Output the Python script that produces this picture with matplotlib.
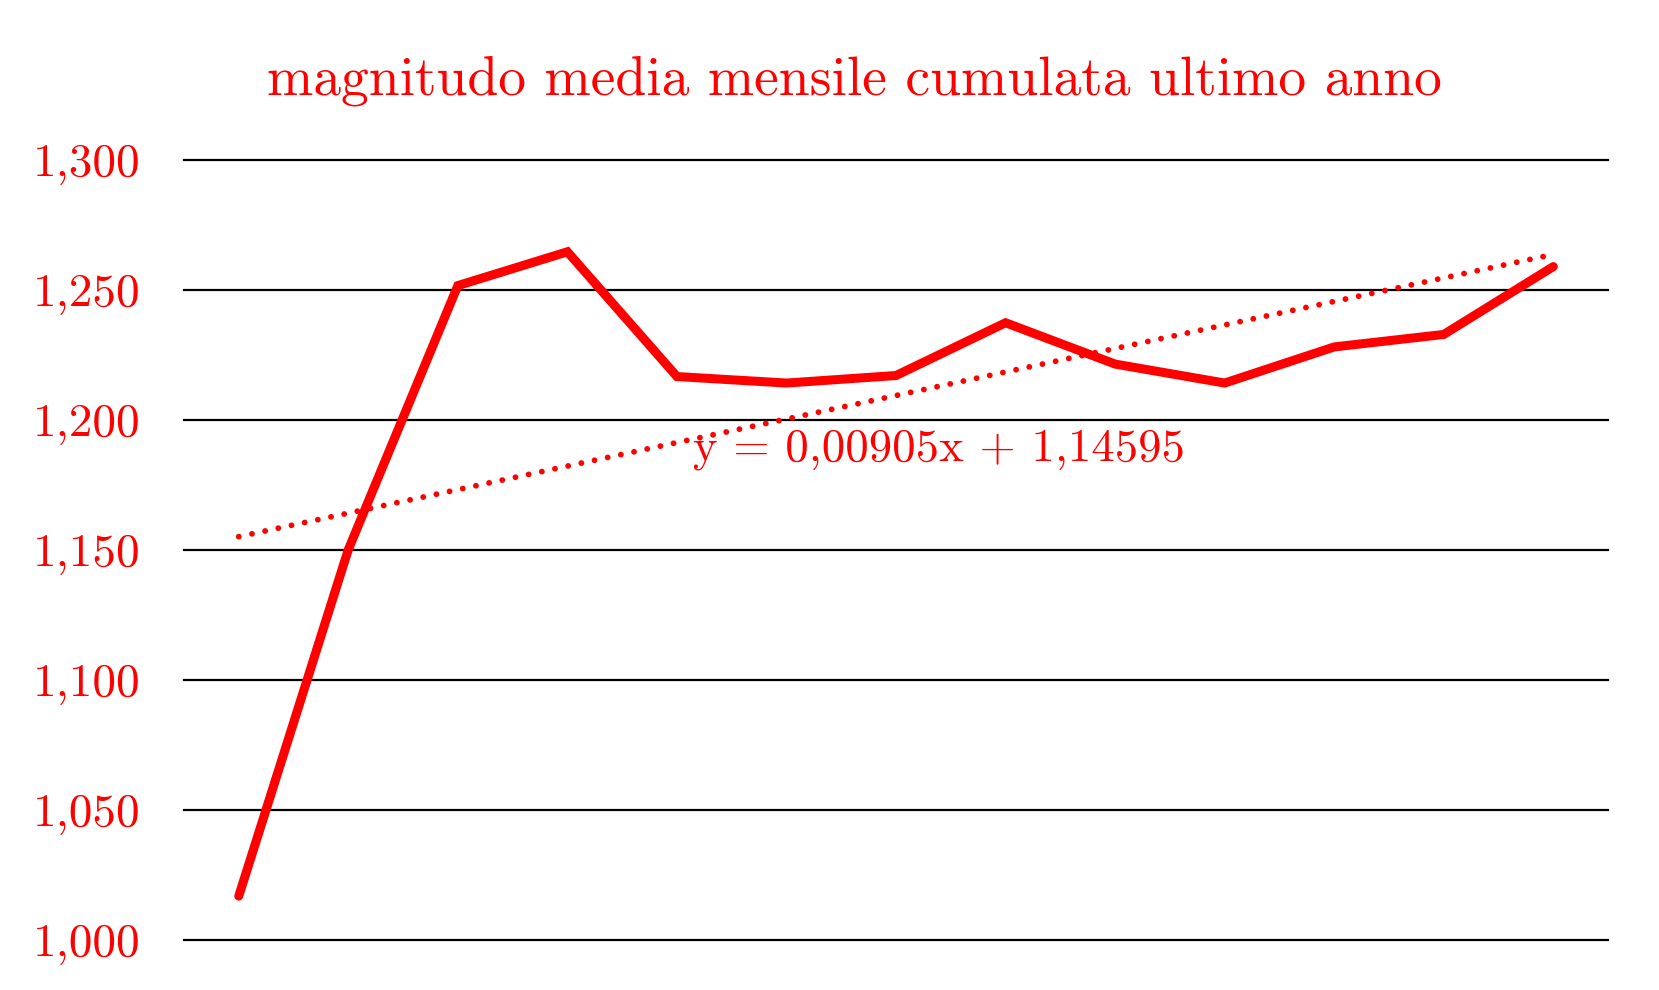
import matplotlib
matplotlib.use("Agg")
from matplotlib import pyplot as plt
from matplotlib.ticker import FuncFormatter
import numpy as np

plt.rcParams['font.family'] = ['cmr10', 'DejaVu Serif']
plt.rcParams['axes.formatter.use_mathtext'] = True

title = "magnitudo media mensile cumulata ultimo anno"
# valori mensili (13 mesi)
months = list(range(1, 14))
values = [1.0167, 1.1500, 1.2516, 1.2646, 1.2166, 1.2141, 1.2170,
          1.2373, 1.2214, 1.2141, 1.2280, 1.2328, 1.2589]
# linea di tendenza come riportata sul grafico
slope, intercept = 0.00905, 1.14595
eq_label = "y = 0,00905x + 1,14595"
yticks = [1.000, 1.050, 1.100, 1.150, 1.200, 1.250, 1.300]

red = "#ff0000"

fig = plt.figure(figsize=(16.59, 9.90), dpi=100)
ax = fig.add_axes([0.1109, 0.051, 0.8584, 0.7876])

x = np.array(months)
ax.plot(x, values, color=red, lw=6.5, solid_capstyle='round',
        solid_joinstyle='miter', zorder=3)

trend = slope * x + intercept
ax.plot(x, trend, color=red, lw=4.2, linestyle=(0, (0.01, 2.3)),
        dash_capstyle='round', zorder=4)

ax.text(5.15, 1.1885, eq_label, color=red, fontsize=33.7,
        ha='left', va='center', zorder=5)

ax.set_xlim(0.5, 13.5)
ax.set_ylim(1.0, 1.3)
ax.set_yticks(yticks)
ax.yaxis.set_major_formatter(FuncFormatter(lambda v, p: f"{v:.3f}".replace('.', ',')))
ax.set_xticks([])
ax.tick_params(axis='y', length=0, pad=31, labelsize=34, labelcolor=red)
for t in yticks:
    ax.axhline(t, color='black', lw=1.6, zorder=1, clip_on=False)
for s in ax.spines.values():
    s.set_visible(False)

fig.text(0.515, 0.918, title, color=red, fontsize=40, ha='center', va='center')

fig.savefig("out.png", dpi=100)
